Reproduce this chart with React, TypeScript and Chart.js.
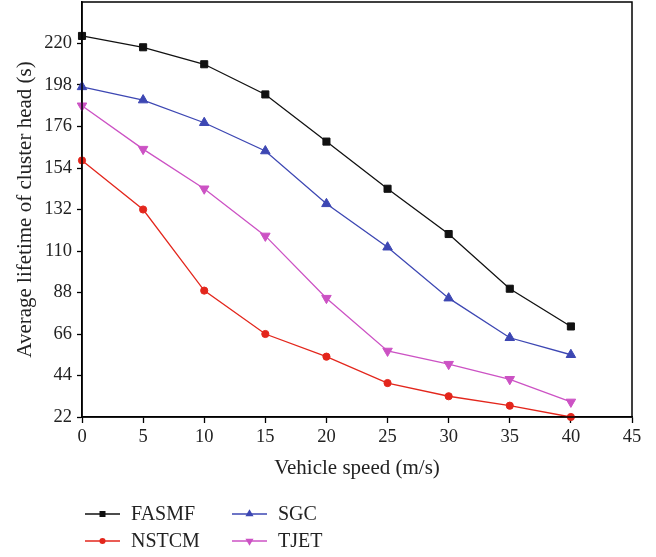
import React, { useEffect, useRef } from "react";
import { Chart, registerables } from "chart.js";

Chart.register(...registerables);

const speeds = [0, 5, 10, 15, 20, 25, 30, 35, 40];
const fasmf = [224, 218, 209, 193, 168, 143, 119, 90, 70];
const sgc = [197, 190, 178, 163, 135, 112, 85, 64, 55];
const nstcm = [158, 132, 89, 66, 54, 40, 33, 28, 22];
const tjet = [187, 164, 143, 118, 85, 57, 50, 42, 30];
const seriesNames = ["FASMF", "SGC", "NSTCM", "TJET"];
const xTitle = "Vehicle speed (m/s)";
const yTitle = "Average lifetime of cluster head (s)";

const FONT = '"Liberation Serif", "Times New Roman", serif';
const colors = ["#111111", "#3d47b3", "#e3261c", "#cc52c4"];
const shapes = ["rect", "triangle", "circle", "triangle"];
const rotations = [0, 0, 0, 180];
const radii = [5, 5.5, 3.6, 5.5];

function drawMarker(ctx: CanvasRenderingContext2D, shape: string, x: number, y: number, r: number, rot: number) {
  ctx.beginPath();
  if (shape === "rect") {
    const s = r * Math.SQRT1_2;
    ctx.rect(x - s, y - s, 2 * s, 2 * s);
  } else if (shape === "circle") {
    ctx.arc(x, y, r, 0, Math.PI * 2);
  } else {
    const a = (rot * Math.PI) / 180;
    for (let k = 0; k < 3; k++) {
      const ang = a - Math.PI / 2 + (k * 2 * Math.PI) / 3;
      const px = x + Math.cos(ang) * r;
      const py = y + Math.sin(ang) * r;
      if (k === 0) ctx.moveTo(px, py);
      else ctx.lineTo(px, py);
    }
    ctx.closePath();
  }
  ctx.fill();
}

const frameAndLegend = {
  id: "frameAndLegend",
  afterDraw(chart: any) {
    const { ctx, chartArea } = chart;
    ctx.save();
    ctx.strokeStyle = "#000";
    ctx.lineWidth = 1.5;
    ctx.strokeRect(chartArea.left, chartArea.top, chartArea.right - chartArea.left, chartArea.bottom - chartArea.top);
    const cols = [85, 232];
    const rows = [514, 541];
    ctx.font = "20px " + FONT;
    ctx.textBaseline = "middle";
    chart.data.datasets.forEach((ds: any, i: number) => {
      const cx = cols[i % 2];
      const cy = rows[Math.floor(i / 2)];
      ctx.strokeStyle = ds.borderColor;
      ctx.lineWidth = 1.4;
      ctx.beginPath();
      ctx.moveTo(cx, cy);
      ctx.lineTo(cx + 35, cy);
      ctx.stroke();
      ctx.fillStyle = ds.borderColor;
      drawMarker(ctx, shapes[i], cx + 17.5, cy, radii[i] * 0.85, rotations[i]);
      ctx.fillStyle = "#222";
      ctx.fillText(ds.label, cx + 46, cy + 1);
    });
    ctx.restore();
  },
};

export default function App() {
  const ref = useRef<HTMLCanvasElement | null>(null);
  useEffect(() => {
    if (!ref.current) return;
    const allSeries = [fasmf, sgc, nstcm, tjet];
    const chart = new Chart(ref.current, {
      type: "line",
      data: {
        datasets: allSeries.map((vals, i) => ({
          label: seriesNames[i],
          data: speeds.map((s, j) => ({ x: s, y: vals[j] })),
          borderColor: colors[i],
          backgroundColor: colors[i],
          borderWidth: 1.3,
          pointStyle: shapes[i] as any,
          pointRotation: rotations[i],
          pointRadius: radii[i],
          pointBorderWidth: 1,
          tension: 0,
          clip: false as any,
        })),
      },
      options: {
        animation: false,
        responsive: false,
        layout: { autoPadding: false, padding: { left: 0, right: 24, top: 2, bottom: 65 } },
        plugins: { legend: { display: false }, tooltip: { enabled: false } },
        scales: {
          x: {
            type: "linear",
            min: 0,
            max: 45,
            ticks: { stepSize: 5, color: "#222", font: { family: FONT, size: 18.5 }, padding: 3, maxRotation: 0 },
            grid: { drawOnChartArea: false, tickLength: 6, tickColor: "#000", tickWidth: 1.3 },
            border: { color: "#000", width: 1.5 },
            title: { display: true, text: xTitle, color: "#222", font: { family: FONT, size: 21 }, padding: { top: 0, bottom: 11 } },
            afterFit: (s: any) => {
              s.height = 75;
            },
          },
          y: {
            min: 22,
            max: 242,
            ticks: {
              stepSize: 22,
              color: "#222",
              font: { family: FONT, size: 18.5 },
              padding: 5,
              callback: (v: any) => (v === 242 ? "" : v),
            },
            grid: {
              drawOnChartArea: false,
              tickLength: 5,
              tickColor: (c: any) => (c.tick && c.tick.value === 242 ? "rgba(0,0,0,0)" : "#000"),
              tickWidth: 1.3,
            },
            border: { color: "#000", width: 1.5 },
            title: { display: true, text: yTitle, color: "#222", font: { family: FONT, size: 21 }, padding: { top: 13, bottom: 0 } },
            afterFit: (s: any) => {
              s.width = 82;
              s.paddingTop = 0;
              s.paddingBottom = 0;
            },
          },
        },
      },
      plugins: [frameAndLegend],
    });
    return () => chart.destroy();
  }, []);
  return (
    <div style={{ position: "absolute", left: 0, top: 0, width: 656, height: 557, background: "#fff" }}>
      <canvas ref={ref} width={656} height={557} />
    </div>
  );
}
